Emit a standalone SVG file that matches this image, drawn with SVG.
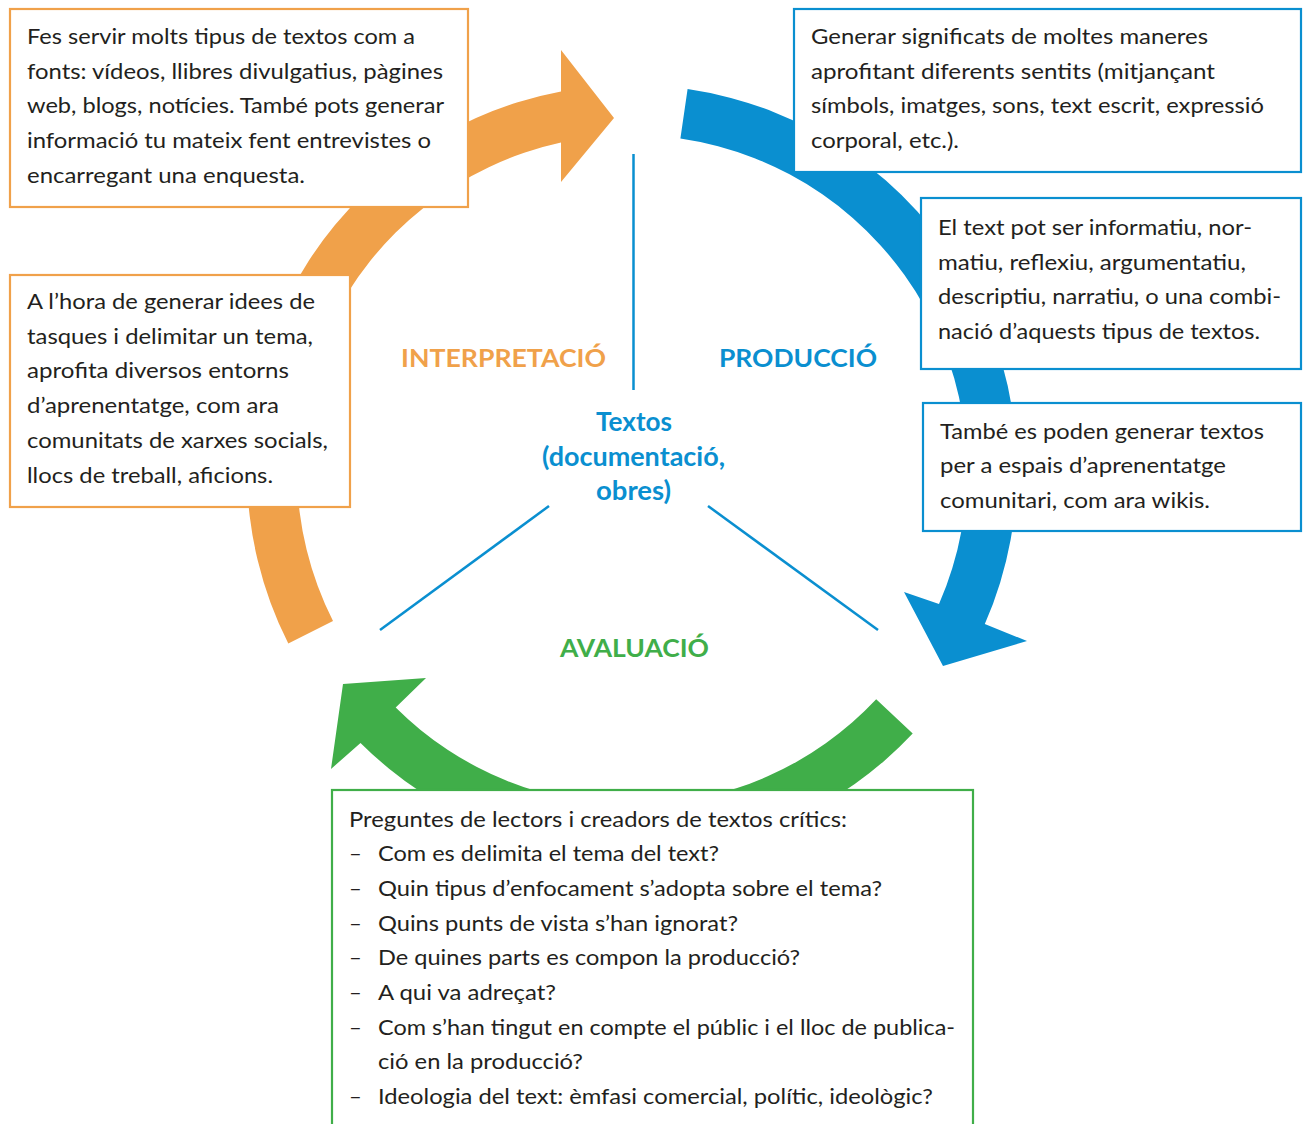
<svg xmlns="http://www.w3.org/2000/svg" width="1308" height="1124" viewBox="0 0 1308 1124">
<style>
.box{fill:#fff;stroke-width:2.2}
.bo{stroke:#F0A14A}.bb{stroke:#0A8FD0}.bg{stroke:#40AE49}
.t{font-family:Lato,"Noto Sans","Liberation Sans",sans-serif;font-size:22px;fill:#231F20}
.lab{font-family:Lato,"Noto Sans","Liberation Sans",sans-serif;font-size:24px;font-weight:bold;text-anchor:middle}
.ctr{font-size:26px}
.ln{stroke:#0A8FD0;stroke-width:2.5;fill:none}
</style>
<rect width="1308" height="1124" fill="#fff"/>
<g id="connectors">
<path id="arrow-interpretacio" fill="#F0A14A" d="M288.3,643.6 A385,385 0 0 1 561,91.6 L561,50 L614,118 L561,182 L561,142.6 A335,335 0 0 0 333,621.1 Z"/>
<path id="arrow-produccio" fill="#0A8FD0" d="M687.6,89 A385,385 0 0 1 984.8,624.1 L1027,641 L943,666 L904,592 L939,604.1 A335,335 0 0 0 680.4,138.5 Z"/>
<path id="arrow-avaluacio" fill="#40AE49" d="M912.7,733.5 A385,385 0 0 1 360.5,742.9 L331,769 L343,684 L426,678 L395.7,707.5 A335,335 0 0 0 876.2,699.3 Z"/>
<line class="ln" x1="633.5" y1="154" x2="633.5" y2="390"/>
<line class="ln" x1="549" y1="506" x2="380" y2="630"/>
<line class="ln" x1="708" y1="506" x2="878" y2="630"/>
</g>
<g id="box-fonts">
<rect class="box bo" x="10" y="9" width="458" height="198"/>
<text class="t"><tspan x="27" y="44" textLength="388" lengthAdjust="spacingAndGlyphs">Fes servir molts tipus de textos com a</tspan><tspan x="27" y="79" textLength="416" lengthAdjust="spacingAndGlyphs">fonts: vídeos, llibres divulgatius, pàgines</tspan><tspan x="27" y="113" textLength="417" lengthAdjust="spacingAndGlyphs">web, blogs, notícies. També pots generar</tspan><tspan x="27" y="148" textLength="404" lengthAdjust="spacingAndGlyphs">informació tu mateix fent entrevistes o</tspan><tspan x="27" y="183" textLength="278" lengthAdjust="spacingAndGlyphs">encarregant una enquesta.</tspan></text>
</g>
<g id="box-idees">
<rect class="box bo" x="10" y="275" width="340" height="232"/>
<text class="t"><tspan x="27" y="309" textLength="288" lengthAdjust="spacingAndGlyphs">A l’hora de generar idees de</tspan><tspan x="27" y="344" textLength="286" lengthAdjust="spacingAndGlyphs">tasques i delimitar un tema,</tspan><tspan x="27" y="378" textLength="262" lengthAdjust="spacingAndGlyphs">aprofita diversos entorns</tspan><tspan x="27" y="413" textLength="252" lengthAdjust="spacingAndGlyphs">d’aprenentatge, com ara</tspan><tspan x="27" y="448" textLength="301" lengthAdjust="spacingAndGlyphs">comunitats de xarxes socials,</tspan><tspan x="27" y="483" textLength="246" lengthAdjust="spacingAndGlyphs">llocs de treball, aficions.</tspan></text>
</g>
<g id="box-significats">
<rect class="box bb" x="794" y="9" width="507" height="163"/>
<text class="t"><tspan x="811" y="44" textLength="397" lengthAdjust="spacingAndGlyphs">Generar significats de moltes maneres</tspan><tspan x="811" y="79" textLength="404" lengthAdjust="spacingAndGlyphs">aprofitant diferents sentits (mitjançant</tspan><tspan x="811" y="113" textLength="453" lengthAdjust="spacingAndGlyphs">símbols, imatges, sons, text escrit, expressió</tspan><tspan x="811" y="148" textLength="148" lengthAdjust="spacingAndGlyphs">corporal, etc.).</tspan></text>
</g>
<g id="box-tipus">
<rect class="box bb" x="921" y="198" width="380" height="171"/>
<text class="t"><tspan x="938" y="235" textLength="314" lengthAdjust="spacingAndGlyphs">El text pot ser informatiu, nor-</tspan><tspan x="938" y="270" textLength="308" lengthAdjust="spacingAndGlyphs">matiu, reflexiu, argumentatiu,</tspan><tspan x="938" y="304" textLength="343" lengthAdjust="spacingAndGlyphs">descriptiu, narratiu, o una combi-</tspan><tspan x="938" y="339" textLength="322" lengthAdjust="spacingAndGlyphs">nació d’aquests tipus de textos.</tspan></text>
</g>
<g id="box-wikis">
<rect class="box bb" x="923" y="403" width="378" height="128"/>
<text class="t"><tspan x="940" y="439" textLength="324" lengthAdjust="spacingAndGlyphs">També es poden generar textos</tspan><tspan x="940" y="473" textLength="286" lengthAdjust="spacingAndGlyphs">per a espais d’aprenentatge</tspan><tspan x="940" y="508" textLength="270" lengthAdjust="spacingAndGlyphs">comunitari, com ara wikis.</tspan></text>
</g>
<g id="box-preguntes">
<rect class="box bg" x="332" y="790" width="641" height="340"/>
<text class="t"><tspan x="349" y="827" textLength="498" lengthAdjust="spacingAndGlyphs">Preguntes de lectors i creadors de textos crítics:</tspan></text>
<text class="t"><tspan x="349" y="861">–</tspan><tspan x="349" y="896">–</tspan><tspan x="349" y="931">–</tspan><tspan x="349" y="965">–</tspan><tspan x="349" y="1000">–</tspan><tspan x="349" y="1035">–</tspan><tspan x="349" y="1104">–</tspan></text>
<text class="t"><tspan x="378" y="861" textLength="341" lengthAdjust="spacingAndGlyphs">Com es delimita el tema del text?</tspan><tspan x="378" y="896" textLength="504" lengthAdjust="spacingAndGlyphs">Quin tipus d’enfocament s’adopta sobre el tema?</tspan><tspan x="378" y="931" textLength="360" lengthAdjust="spacingAndGlyphs">Quins punts de vista s’han ignorat?</tspan><tspan x="378" y="965" textLength="422" lengthAdjust="spacingAndGlyphs">De quines parts es compon la producció?</tspan><tspan x="378" y="1000" textLength="178" lengthAdjust="spacingAndGlyphs">A qui va adreçat?</tspan><tspan x="378" y="1035" textLength="577" lengthAdjust="spacingAndGlyphs">Com s’han tingut en compte el públic i el lloc de publica-</tspan><tspan x="378" y="1069" textLength="205" lengthAdjust="spacingAndGlyphs">ció en la producció?</tspan><tspan x="378" y="1104" textLength="555" lengthAdjust="spacingAndGlyphs">Ideologia del text: èmfasi comercial, polític, ideològic?</tspan></text>
</g>
<g id="label-interpretacio"><text class="lab" fill="#F0A14A" x="503.5" y="367" textLength="205" lengthAdjust="spacingAndGlyphs">INTERPRETACIÓ</text></g>
<g id="label-produccio"><text class="lab" fill="#0A8FD0" x="798" y="367" textLength="158" lengthAdjust="spacingAndGlyphs">PRODUCCIÓ</text></g>
<g id="label-avaluacio"><text class="lab" fill="#40AE49" x="634.5" y="657" textLength="149" lengthAdjust="spacingAndGlyphs">AVALUACIÓ</text></g>
<g id="node-textos"><text class="lab ctr" fill="#0A8FD0"><tspan x="634" y="431" textLength="76" lengthAdjust="spacingAndGlyphs">Textos</tspan><tspan x="633.5" y="466" textLength="183" lengthAdjust="spacingAndGlyphs">(documentació,</tspan><tspan x="633.5" y="500" textLength="75" lengthAdjust="spacingAndGlyphs">obres)</tspan></text></g>
</svg>
